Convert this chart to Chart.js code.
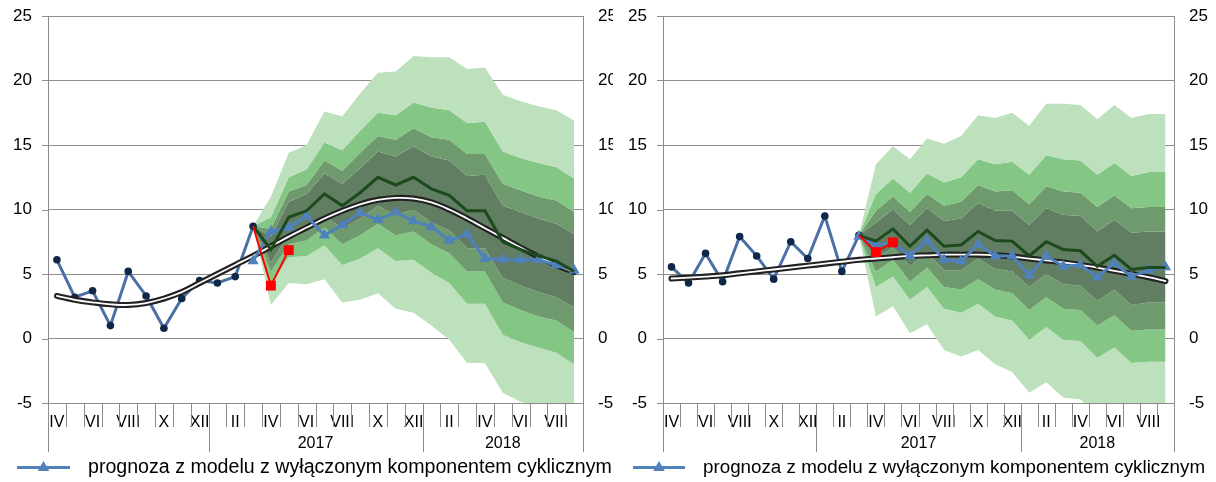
<!DOCTYPE html>
<html>
<head>
<meta charset="utf-8">
<script src="https://cdn.jsdelivr.net/npm/chart.js@4.4.1/dist/chart.umd.min.js"></script>
<style>
  html, body { margin: 0; padding: 0; background: #fff; overflow: hidden; }
  #wrap { position: relative; width: 1216px; height: 482px; }
  .panel { position: absolute; top: 0; height: 482px; overflow: hidden; }
  #pA { left: 0; width: 613px; }
  #pB { left: 613px; width: 603px; }
  canvas { display: block; }
</style>
</head>
<body>
<div id="wrap">
  <div class="panel" id="pA"><canvas id="cA" width="640" height="482"></canvas></div>
  <div class="panel" id="pB"><canvas id="cB" width="640" height="482"></canvas></div>
</div>
<script>
// Months IV 2016 – IX 2018
const months = ['IV','V','VI','VII','VIII','IX','X','XI','XII',
                'I','II','III','IV','V','VI','VII','VIII','IX','X','XI','XII',
                'I','II','III','IV','V','VI','VII','VIII','IX'];
const yearLabels = ['2017', '2018'];
const yearFirstMonth = [9, 21];
const yMin = -5, yMax = 25, yStep = 5;
const forecastStart = 11;   // III 2017: last observed month, fan origin
const legendText = 'prognoza z modelu z wyłączonym komponentem cyklicznym';

// ---------- left panel ----------
const actualA   = [6.1, 3.2, 3.7, 1.0, 5.2, 3.3, 0.8, 3.1, 4.5, 4.3, 4.8, 8.7];
const outturnA  = [8.7, 4.1, 6.85];
const noCycleA  = [6.0, 8.3, 8.6, 9.5, 8.0, 8.8, 9.75, 9.2, 9.8, 9.1, 8.65, 7.6, 8.1, 6.2, 6.15, 6.1, 6.1, 5.7, 5.3];
const centralA  = [8.7, 6.9, 9.4, 9.9, 11.2, 10.3, 11.3, 12.5, 11.9, 12.5, 11.6, 11.1, 9.9, 9.9, 7.5, 6.9, 6.4, 6.0, 5.2];
const trendA    = [3.3, 3.0, 2.8, 2.65, 2.6, 2.75, 3.1, 3.6, 4.3, 5.0, 5.7, 6.4, 7.15, 7.9, 8.6, 9.3, 9.9, 10.4,
                   10.75, 10.9, 10.85, 10.55, 10.0, 9.3, 8.55, 7.8, 7.05, 6.35, 5.7, 5.15];
const fanU4A = [8.7, 11.0, 14.4, 15.0, 17.6, 17.2, 19.0, 20.6, 20.7, 21.9, 21.8, 21.8, 20.9, 21.0, 18.9, 18.4, 18.0, 17.7, 16.9];
const fanU3A = [8.7, 9.4, 12.5, 13.1, 15.2, 14.6, 16.1, 17.5, 17.3, 18.3, 17.9, 17.7, 16.7, 16.8, 14.5, 14.0, 13.6, 13.3, 12.4];
const fanU2A = [8.7, 8.5, 11.4, 11.9, 13.8, 13.0, 14.4, 15.7, 15.4, 16.3, 15.6, 15.4, 14.3, 14.3, 12.0, 11.5, 11.0, 10.7, 9.8];
const fanU1A = [8.7, 7.9, 10.6, 11.2, 12.8, 12.0, 13.2, 14.5, 14.1, 14.9, 14.1, 13.8, 12.6, 12.7, 10.3, 9.8, 9.3, 8.9, 8.1];
const fanL1A = [8.7, 5.9, 8.1, 8.5, 9.6, 8.5, 9.3, 10.3, 9.6, 10.0, 9.0, 8.4, 7.0, 7.0, 4.7, 4.1, 3.6, 3.2, 2.4];
const fanL2A = [8.7, 5.2, 7.3, 7.6, 8.6, 7.3, 8.0, 8.9, 8.0, 8.3, 7.3, 6.6, 5.2, 5.2, 2.8, 2.2, 1.7, 1.4, 0.5];
const fanL3A = [8.7, 4.3, 6.3, 6.4, 7.2, 5.7, 6.2, 7.0, 6.0, 6.1, 5.1, 4.3, 2.7, 2.7, 0.3, -0.3, -0.7, -1.1, -2.0];
const fanL4A = [8.7, 2.6, 4.3, 4.2, 4.6, 2.8, 3.0, 3.5, 2.3, 2.0, 1.0, -0.1, -1.9, -1.9, -4.2, -4.9, -5.3, -5.6, -6.5];

// ---------- right panel ----------
const actualB   = [5.55, 4.3, 6.6, 4.4, 7.9, 6.4, 4.6, 7.5, 6.2, 9.5, 5.2, 8.0];
const outturnB  = [8.0, 6.7, 7.45];
const noCycleB  = [7.9, 7.25, 7.4, 6.4, 7.6, 6.1, 6.0, 7.3, 6.4, 6.4, 4.9, 6.4, 5.6, 5.7, 4.75, 5.85, 4.8, 5.3, 5.55];
const centralB  = [8.0, 7.55, 8.5, 7.15, 8.4, 7.15, 7.25, 8.3, 7.6, 7.55, 6.4, 7.5, 6.9, 6.8, 5.6, 6.45, 5.35, 5.5, 5.5];
const trendB    = [4.65, 4.72, 4.8, 4.9, 5.05, 5.2, 5.35, 5.5, 5.65, 5.8, 5.95, 6.1, 6.2, 6.3, 6.4, 6.45, 6.5, 6.5,
                   6.5, 6.45, 6.35, 6.2, 6.05, 5.9, 5.7, 5.5, 5.25, 5.0, 4.75, 4.45];
const fanU4B = [8.0, 13.5, 14.9, 13.9, 15.5, 15.1, 15.7, 17.3, 17.1, 17.5, 16.5, 18.2, 18.2, 18.1, 17.0, 18.1, 17.1, 17.4, 17.4];
const fanU3B = [8.0, 11.2, 12.4, 11.3, 12.8, 12.1, 12.5, 13.9, 13.5, 13.7, 12.7, 14.2, 13.9, 13.8, 12.7, 13.6, 12.6, 12.9, 12.9];
const fanU2B = [8.0, 9.9, 11.0, 9.8, 11.2, 10.3, 10.6, 11.9, 11.4, 11.5, 10.4, 11.8, 11.4, 11.3, 10.2, 11.1, 10.1, 10.2, 10.2];
const fanU1B = [8.0, 9.0, 10.0, 8.8, 10.1, 9.1, 9.3, 10.5, 9.9, 9.9, 8.8, 10.1, 9.6, 9.5, 8.3, 9.2, 8.2, 8.3, 8.3];
const fanL1B = [8.0, 6.2, 7.1, 5.6, 6.7, 5.3, 5.3, 6.2, 5.4, 5.2, 4.0, 5.0, 4.2, 4.1, 2.9, 3.8, 2.6, 2.8, 2.8];
const fanL2B = [8.0, 5.2, 6.1, 4.4, 5.5, 4.0, 3.8, 4.6, 3.8, 3.5, 2.2, 3.2, 2.3, 2.2, 1.0, 1.8, 0.6, 0.7, 0.7];
const fanL3B = [8.0, 4.0, 4.8, 3.0, 4.0, 2.3, 2.0, 2.7, 1.7, 1.4, -0.1, 0.9, -0.1, -0.2, -1.5, -0.7, -1.9, -1.8, -1.8];
const fanL4B = [8.0, 1.7, 2.5, 0.4, 1.1, -0.9, -1.4, -0.9, -2.0, -2.6, -4.2, -3.4, -4.6, -4.7, -6.0, -5.3, -6.5, -6.4, -6.4];

// ---------- styling ----------
const FONT = "'Liberation Sans', Arial, sans-serif";
const GRID = '#8c8c8c';
const bandColors = ['#bde0bd', '#84c684', '#6e9a6e', '#627e62', '#6e9a6e', '#84c684', '#bde0bd'];
const BLUE = '#4f81bd';

// place a partial series on the 30-month axis
function place(values, start) {
  const out = new Array(months.length).fill(null);
  values.forEach((v, i) => { out[start + i] = v; });
  return out;
}

// axis furniture outside the plot and the legend line
const decorPlugin = {
  id: 'decor',
  afterDraw(chart, args, opts) {
    const ctx = chart.ctx;
    const x = chart.scales.x;
    const y = chart.scales.y;
    const area = chart.chartArea;
    const w = x.getPixelForValue(1) - x.getPixelForValue(0);
    const left = x.getPixelForValue(0) - w / 2;
    const bottom = area.bottom;
    ctx.save();
    ctx.strokeStyle = GRID;
    ctx.lineWidth = 1;
    // short marks left of the value axis
    y.ticks.forEach(t => {
      const py = Math.round(y.getPixelForValue(t.value)) + 0.5;
      ctx.beginPath();
      ctx.moveTo(area.left - 6, py);
      ctx.lineTo(area.left, py);
      ctx.stroke();
    });
    // month boundaries, with longer marks at year boundaries
    for (let k = 0; k <= months.length; k++) {
      const px = Math.round(left + k * w) + 0.5;
      const long = k === 0 || k === months.length || yearFirstMonth.includes(k);
      ctx.beginPath();
      ctx.moveTo(px, bottom);
      ctx.lineTo(px, bottom + (long ? 49 : 24));
      ctx.stroke();
    }
    ctx.fillStyle = '#000';
    ctx.font = '16px ' + FONT;
    ctx.textAlign = 'center';
    ctx.textBaseline = 'middle';
    yearLabels.forEach((label, j) => {
      const a = yearFirstMonth[j];
      const b = j + 1 < yearFirstMonth.length ? yearFirstMonth[j + 1] : months.length;
      const cx = left + (a + b) / 2 * w;
      ctx.fillText(label, cx, bottom + 41);
    });
    // legend entry
    const ly = 467.5;
    ctx.strokeStyle = BLUE;
    ctx.lineWidth = 3;
    ctx.beginPath();
    ctx.moveTo(opts.lineFrom, ly);
    ctx.lineTo(opts.lineTo, ly);
    ctx.stroke();
    const mx = (opts.lineFrom + opts.lineTo) / 2;
    ctx.fillStyle = BLUE;
    ctx.beginPath();
    ctx.moveTo(mx, ly - 6.5);
    ctx.lineTo(mx + 5.8, ly + 3.5);
    ctx.lineTo(mx - 5.8, ly + 3.5);
    ctx.closePath();
    ctx.fill();
    ctx.fillStyle = '#000';
    ctx.font = opts.fontSize + 'px ' + FONT;
    ctx.textAlign = 'left';
    ctx.fillText(legendText, opts.textX, ly);
    ctx.restore();
  }
};

function buildPanel(canvasId, p) {
  const bounds = [p.u4, p.u3, p.u2, p.u1, p.l1, p.l2, p.l3, p.l4];
  const datasets = bounds.map((b, k) => ({
    data: place(b, forecastStart),
    fill: k < bounds.length - 1 ? '+1' : false,
    backgroundColor: k < bandColors.length ? bandColors[k] : 'rgba(0,0,0,0)',
    borderWidth: 0,
    pointRadius: 0,
    tension: 0,
    order: 100 + k
  }));
  datasets.push(
    { // observed values
      data: place(p.actual, 0), borderColor: '#4a70a6', borderWidth: 3,
      pointRadius: 3.8, pointBackgroundColor: '#0f2748', pointBorderWidth: 0,
      tension: 0, fill: false, order: 30
    },
    { // trend: dark outline
      data: place(p.trend, 0), borderColor: '#222', borderWidth: 6, borderCapStyle: 'round',
      pointRadius: 0, tension: 0.4, fill: false, order: 21
    },
    { // trend: light core
      data: place(p.trend, 0), borderColor: '#fff', borderWidth: 1.8, borderCapStyle: 'round',
      pointRadius: 0, tension: 0.4, fill: false, order: 20
    },
    { // forecast without the cyclical component
      data: place(p.noCycle, forecastStart), borderColor: BLUE, borderWidth: 3,
      pointStyle: 'triangle', pointRadius: 6.5, pointBackgroundColor: BLUE, pointBorderWidth: 0,
      tension: 0, fill: false, order: 10
    },
    { // central path
      data: place(p.central, forecastStart), borderColor: '#1c4a1c', borderWidth: 3,
      pointRadius: 0, tension: 0, fill: false, order: 5
    },
    { // latest outturn
      data: place(p.outturn, forecastStart), borderColor: '#ff0000', borderWidth: 2,
      pointStyle: 'rect', pointRadius: ctx => ctx.dataIndex === forecastStart ? 0 : 7,
      pointBackgroundColor: '#ff0000', pointBorderWidth: 0,
      tension: 0, fill: false, order: 1
    }
  );

  return new Chart(document.getElementById(canvasId), {
    type: 'line',
    data: { labels: months, datasets },
    options: {
      responsive: false,
      devicePixelRatio: 1,
      animation: false,
      events: [],
      layout: { padding: { top: 16, left: 0, right: 0, bottom: 0 } },
      plugins: {
        legend: { display: false },
        tooltip: { enabled: false },
        decor: p.legend
      },
      scales: {
        x: {
          type: 'category',
          offset: true,
          grid: { display: false, drawTicks: false },
          border: { display: false },
          ticks: {
            autoSkip: false, maxRotation: 0, minRotation: 0, padding: 10,
            color: '#000', font: { size: 16, family: FONT },
            callback: (v, i) => (i % 2 === 0 ? months[i] : '')
          },
          afterFit: s => { s.height = 79; }
        },
        y: {
          position: 'left',
          min: yMin, max: yMax,
          ticks: { stepSize: yStep, padding: 0, color: '#000', font: { size: 17, family: FONT } },
          grid: { color: GRID, lineWidth: 1, tickLength: 16, drawTicks: true, tickColor: 'rgba(0,0,0,0)' },
          border: { display: true, color: GRID, width: 1 },
          afterFit: s => { s.width = p.leftWidth; }
        },
        y2: {
          position: 'right',
          min: yMin, max: yMax,
          ticks: { stepSize: yStep, padding: 0, color: '#000', font: { size: 17, family: FONT } },
          grid: { display: false, drawTicks: true, tickLength: 15, drawOnChartArea: false },
          border: { display: true, color: GRID, width: 1 },
          afterFit: s => { s.width = p.rightWidth; }
        }
      }
    },
    plugins: [decorPlugin]
  });
}

Chart.defaults.font.family = FONT;

buildPanel('cA', {
  actual: actualA, outturn: outturnA, noCycle: noCycleA, central: centralA, trend: trendA,
  u4: fanU4A, u3: fanU3A, u2: fanU2A, u1: fanU1A, l1: fanL1A, l2: fanL2A, l3: fanL3A, l4: fanL4A,
  leftWidth: 48, rightWidth: 57,
  legend: { lineFrom: 17, lineTo: 70, textX: 88, fontSize: 19.6 }
});
buildPanel('cB', {
  actual: actualB, outturn: outturnB, noCycle: noCycleB, central: centralB, trend: trendB,
  u4: fanU4B, u3: fanU3B, u2: fanU2B, u1: fanU1B, l1: fanL1B, l2: fanL2B, l3: fanL3B, l4: fanL4B,
  leftWidth: 50, rightWidth: 79,
  legend: { lineFrom: 20, lineTo: 72, textX: 90, fontSize: 18.8 }
});
</script>
</body>
</html>
